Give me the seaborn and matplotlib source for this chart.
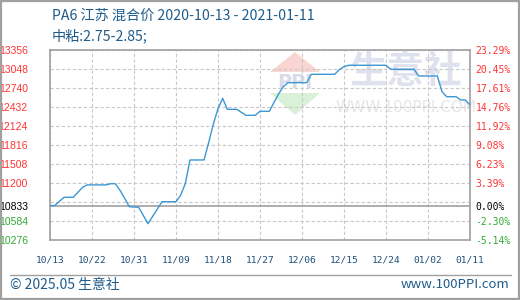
import matplotlib
matplotlib.use("Agg")
import matplotlib.pyplot as plt
from matplotlib.patches import Polygon, Rectangle
import seaborn as sns
import pandas as pd

# ---- data ----
dates = ["2020-10-13", "2020-10-14", "2020-10-16", "2020-10-18", "2020-10-20", "2020-10-21",
         "2020-10-25", "2020-10-26", "2020-10-27", "2020-10-28", "2020-10-29", "2020-10-30",
         "2020-11-01", "2020-11-03", "2020-11-06", "2020-11-09", "2020-11-10", "2020-11-11",
         "2020-11-12", "2020-11-15", "2020-11-16", "2020-11-17", "2020-11-18", "2020-11-19",
         "2020-11-20", "2020-11-22", "2020-11-24", "2020-11-26", "2020-11-27", "2020-11-29",
         "2020-11-30", "2020-12-01", "2020-12-02", "2020-12-03", "2020-12-07", "2020-12-08",
         "2020-12-13", "2020-12-14", "2020-12-15", "2020-12-16", "2020-12-24", "2020-12-25",
         "2020-12-30", "2020-12-31", "2021-01-04", "2021-01-05", "2021-01-06", "2021-01-08",
         "2021-01-09", "2021-01-10", "2021-01-11"]
prices = [10833, 10833, 10967, 10967, 11130, 11167,
          11167, 11186, 11186, 11080, 10950, 10814,
          10805, 10540, 10895, 10895, 11000, 11190,
          11570, 11570, 11850, 12150, 12400, 12567,
          12389, 12389, 12292, 12292, 12357, 12357,
          12500, 12640, 12755, 12820, 12820, 12955,
          12955, 13030, 13080, 13101, 13101, 13036,
          13036, 12928, 12928, 12674, 12593, 12593,
          12540, 12540, 12459]

base_price = 10833
left_ticks = [13356, 13048, 12740, 12432, 12124, 11816, 11508, 11200, 10833, 10584, 10276]
right_labels = ["23.29%", "20.45%", "17.61%", "14.76%", "11.92%", "9.08%", "6.23%",
                "3.39%", "0.00%", "-2.30%", "-5.14%"]
grid_levels = [13356, 13048, 12740, 12432, 12124, 11816, 11508, 11200, 10892, 10584, 10276]
x_ticks = ["2020-10-13", "2020-10-22", "2020-10-31", "2020-11-09", "2020-11-18", "2020-11-27",
           "2020-12-06", "2020-12-15", "2020-12-24", "2021-01-02", "2021-01-11"]
x_labels = ["10/13", "10/22", "10/31", "11/09", "11/18", "11/27", "12/06", "12/15", "12/24",
            "01/02", "01/11"]
title = "PA6 江苏 混合价 2020-10-13 - 2021-01-11"
subtitle = "中粘:2.75-2.85;"
footer_left = "© 2025.05 生意社"
footer_right = "www.100PPI.com"

df = pd.DataFrame({"date": pd.to_datetime(dates), "price": prices})

sns.set_theme(style="white")
plt.rcParams["font.family"] = ["Noto Sans CJK SC", "DejaVu Sans"]

W, H = 520, 300
fig = plt.figure(figsize=(W / 100, H / 100), dpi=100)
fig.patch.set_facecolor("white")

# outer frame
fig.patches.append(Rectangle((0.8 / W, 0.8 / H), 1 - 2.0 / W, 1 - 2.0 / H, transform=fig.transFigure,
                             fill=False, edgecolor="#a0a0a0", linewidth=1.6))

ax = fig.add_axes([50 / W, 60 / H, 420 / W, 190.5 / H])
ax.set_facecolor("white")

# watermark (behind everything)
def fx(px):
    return (px - 50) / 420
def fy(py):
    return (240 - py) / 190.5
ax.add_patch(Polygon([(fx(295), fy(52)), (fx(270), fy(72)), (fx(320), fy(72))], closed=True,
                     transform=ax.transAxes, facecolor="#f9d6d2", edgecolor="none", zorder=0.1))
ax.add_patch(Polygon([(fx(270), fy(93)), (fx(320), fy(93)), (fx(295), fy(115))], closed=True,
                     transform=ax.transAxes, facecolor="#d9f0d9", edgecolor="none", zorder=0.1))
ax.text(fx(295), fy(82), "PPI", transform=ax.transAxes, ha="center", va="center",
        fontsize=14, color="#d8dcea", fontweight="bold", family="DejaVu Sans", zorder=0.1)
ax.text(fx(406), fy(72), "生意社", transform=ax.transAxes, ha="center", va="center",
        fontsize=27, color="#dfe2ee", fontweight="bold", zorder=0.1)
ax.text(fx(406), fy(107), "WWW.100PPI.COM", transform=ax.transAxes, ha="center", va="center",
        fontsize=11, color="#e6e6ea", family="DejaVu Sans", zorder=0.1)

# grid
for g in grid_levels:
    ax.axhline(g, color="#c8c8c8", linestyle=(0, (3, 2)), linewidth=0.8, zorder=0.5)
for t in x_ticks:
    ax.axvline(pd.Timestamp(t), color="#c8c8c8", linestyle=(0, (3, 2)), linewidth=0.8, zorder=0.5)
ax.axhline(base_price, color="#a0a0a0", linewidth=1.2, zorder=0.6)

sns.lineplot(data=df, x="date", y="price", ax=ax, color="#3b97d3", linewidth=1.0, zorder=3)

ax.set_xlim(pd.Timestamp(dates[0]), pd.Timestamp(dates[-1]))
ax.set_ylim(10276, 13356)
ax.set_xlabel("")
ax.set_ylabel("")

ax.set_xticks([pd.Timestamp(t) for t in x_ticks])
ax.set_xticklabels(x_labels, family=["DejaVu Sans Mono"], fontsize=6.8, color="#1f4e79")
ax.set_yticks(left_ticks)
ax.set_yticklabels([str(v) for v in left_ticks], family=["Liberation Sans", "DejaVu Sans"],
                   fontsize=7.5)
for lab, v in zip(ax.get_yticklabels(), left_ticks):
    lab.set_color("#ff3333" if v > base_price else ("#000000" if v == base_price else "#33aa33"))
ax.tick_params(axis="x", length=0, pad=11)
ax.tick_params(axis="y", length=0, pad=16)

for s in ax.spines.values():
    s.set_color("#a0a0a0")
    s.set_linewidth(1.2)

ax2 = ax.twinx()
ax2.set_ylim(ax.get_ylim())
ax2.set_yticks(left_ticks)
ax2.set_yticklabels(right_labels, family=["DejaVu Sans Mono"], fontsize=7)
for lab, v in zip(ax2.get_yticklabels(), left_ticks):
    lab.set_color("#ff3333" if v > base_price else ("#000000" if v == base_price else "#33aa33"))
ax2.tick_params(axis="y", length=0, pad=4)
for s in ax2.spines.values():
    s.set_visible(False)

# titles
fig.text(52 / W, 1 - 16 / H, title, fontsize=10.2, color="#1f5c8b", va="center", ha="left")
fig.text(52 / W, 1 - 36 / H, subtitle, fontsize=10.2, color="#1f5c8b", va="center", ha="left")

# footer
fig.add_artist(plt.Line2D([10 / W, 511 / W], [1 - 275 / H, 1 - 275 / H], transform=fig.transFigure,
                          color="#a0a0a0", linewidth=1.0))
fig.text(10 / W, 1 - 285 / H, footer_left, fontsize=10, color="#1f5c8b", va="center", ha="left")
fig.text(509 / W, 1 - 285 / H, footer_right, fontsize=9.5, color="#1f5c8b", va="center", ha="right",
         family=["Noto Sans CJK SC", "DejaVu Sans"])

fig.savefig("out.png", dpi=100)
